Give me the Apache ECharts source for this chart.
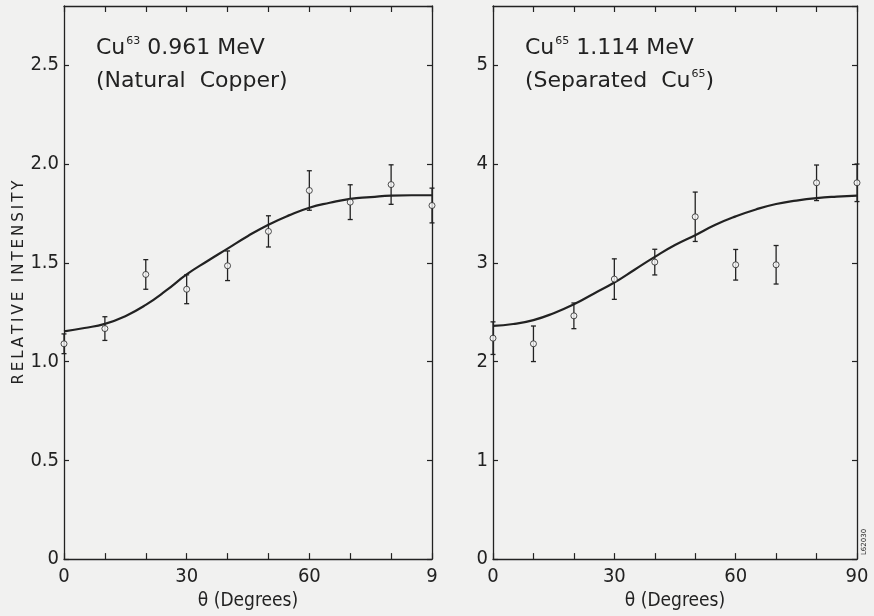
<!DOCTYPE html>
<html>
<head>
<meta charset="utf-8">
<script src="https://cdn.jsdelivr.net/npm/echarts@6/dist/echarts.min.js"></script>
<style>
  html, body { margin: 0; padding: 0; background: #f1f1f0; }
  #main { width: 874px; height: 616px; }
</style>
</head>
<body>
<div id="main"></div>
<script>
// measured angles (degrees)
var angles = [0, 10, 20, 30, 40, 50, 60, 70, 80, 90];

// Cu63 0.961 MeV (natural copper)
var cu63Vals = [1.09, 1.167, 1.441, 1.366, 1.485, 1.659, 1.866, 1.807, 1.896, 1.79];
var cu63Err  = [0.05, 0.06, 0.075, 0.073, 0.075, 0.079, 0.10, 0.088, 0.10, 0.088];

// Cu65 1.114 MeV (separated Cu65)
var cu65Vals = [2.237, 2.18, 2.463, 2.835, 3.007, 3.466, 2.98, 2.98, 3.81, 3.81];
var cu65Err  = [0.165, 0.18, 0.13, 0.205, 0.13, 0.25, 0.155, 0.195, 0.18, 0.19];

// fitted curves, every 5 degrees
var curveAngles = [0, 5, 10, 15, 20, 25, 30, 35, 40, 45, 50, 55, 60, 65, 70, 75, 80, 85, 90];
var cu63Curve = [1.153, 1.17, 1.191, 1.23, 1.287, 1.36, 1.441, 1.508, 1.572, 1.636, 1.693, 1.74, 1.779, 1.804, 1.824, 1.832, 1.84, 1.842, 1.842];
var cu65Curve = [2.362, 2.38, 2.42, 2.49, 2.58, 2.69, 2.80, 2.93, 3.06, 3.18, 3.28, 3.385, 3.47, 3.54, 3.595, 3.63, 3.655, 3.67, 3.68];

var ink = '#222';
var bg = '#f1f1f0';
var numFont = '"DejaVu Sans Condensed", "DejaVu Sans", sans-serif';
var txtFont = '"DejaVu Sans", sans-serif';

var myChart = echarts.init(document.getElementById('main'));

function pairs(xs, ys) {
    return xs.map(function (x, i) { return [x, ys[i]]; });
}
function bars(vals, err) {
    return angles.map(function (a, i) { return [a, vals[i] - err[i], vals[i] + err[i]]; });
}
// spread letters a little, like the lettering on the original
function spaced(s) {
    return s.split(' ').map(function (w) { return w.split('').join('\u2009'); }).join('  ');
}

function errorBar(params, api) {
    var x = api.value(0);
    var lo = api.coord([x, api.value(1)]);
    var hi = api.coord([x, api.value(2)]);
    var w = 2.5;
    var st = { stroke: ink, lineWidth: 1.3 };
    return {
        type: 'group',
        children: [
            { type: 'line', shape: { x1: lo[0], y1: lo[1], x2: hi[0], y2: hi[1] }, style: st },
            { type: 'line', shape: { x1: lo[0] - w, y1: lo[1], x2: lo[0] + w, y2: lo[1] }, style: st },
            { type: 'line', shape: { x1: hi[0] - w, y1: hi[1], x2: hi[0] + w, y2: hi[1] }, style: st }
        ]
    };
}

var axisLineStyle = { show: true, onZero: false, lineStyle: { color: ink, width: 1.3 } };

function xAxes(gridIndex, lastLabel) {
    return [
        {
            type: 'value', gridIndex: gridIndex, min: 0, max: 90, interval: 10,
            name: 'θ (Degrees)', nameLocation: 'middle', nameGap: 29,
            nameTextStyle: { color: ink, fontSize: 19, fontFamily: numFont },
            axisLine: axisLineStyle,
            axisTick: { inside: true, length: 6, lineStyle: { color: ink, width: 1.2 } },
            axisLabel: {
                color: ink, fontSize: 20, fontFamily: numFont, margin: 8,
                formatter: function (v) {
                    if (v % 30 !== 0) return '';
                    return v === 90 ? lastLabel : String(v);
                }
            },
            splitLine: { show: false }
        },
        {
            type: 'value', gridIndex: gridIndex, position: 'top', min: 0, max: 90, interval: 10,
            axisLine: axisLineStyle,
            axisTick: { inside: true, length: 6, lineStyle: { color: ink, width: 1.2 } },
            axisLabel: { show: false },
            splitLine: { show: false }
        }
    ];
}

function yAxes(gridIndex, max, interval, fmt, name) {
    return [
        {
            type: 'value', gridIndex: gridIndex, min: 0, max: max, interval: interval,
            name: name, nameLocation: 'middle', nameGap: 36,
            nameTextStyle: { color: ink, fontSize: 15, fontFamily: txtFont },
            axisLine: axisLineStyle,
            axisTick: { show: true, inside: true, length: 5, lineStyle: { color: ink, width: 1.2 } },
            axisLabel: { color: ink, fontSize: 20, fontFamily: numFont, margin: 5, showMaxLabel: false, formatter: fmt },
            splitLine: { show: false }
        },
        {
            type: 'value', gridIndex: gridIndex, position: 'right', min: 0, max: max, interval: interval,
            axisLine: axisLineStyle,
            axisTick: { show: true, inside: true, length: 5, lineStyle: { color: ink, width: 1.2 } },
            axisLabel: { show: false },
            splitLine: { show: false }
        }
    ];
}

var richStyle = {
    m: { fontSize: 22, fontFamily: txtFont, color: ink, lineHeight: 33 },
    s: { fontSize: 11, fontFamily: txtFont, color: ink, verticalAlign: 'top', lineHeight: 12, padding: [4, 0, 0, 1] }
};

option = {
    backgroundColor: bg,
    animation: false,
    title: [
        {
            left: 96, top: 32, padding: 0,
            text: '{m|Cu}{s|63}{m| 0.961 MeV}\n{m|(Natural  Copper)}',
            textStyle: { rich: richStyle, fontWeight: 'normal' }
        },
        {
            left: 525, top: 32, padding: 0,
            text: '{m|Cu}{s|65}{m| 1.114 MeV}\n{m|(Separated  Cu}{s|65}{m|)}',
            textStyle: { rich: richStyle, fontWeight: 'normal' }
        }
    ],
    graphic: [
        {
            type: 'text', x: 864, y: 542, rotation: Math.PI / 2,
            style: { text: 'L62030', fontSize: 7, fontFamily: txtFont, fill: ink, align: 'center', verticalAlign: 'middle' }
        }
    ],
    grid: [
        { left: 64, top: 6, width: 368, height: 556 },
        { left: 493, top: 6, width: 364, height: 556 }
    ],
    xAxis: xAxes(0, '9').concat(xAxes(1, '90')),
    yAxis: yAxes(0, 2.8, 0.5, function (v) { return v === 0 ? '0' : v.toFixed(1); }, spaced('RELATIVE INTENSITY'))
        .concat(yAxes(1, 5.6, 1, function (v) { return String(v); }, '')),
    series: [
        {
            type: 'line', xAxisIndex: 0, yAxisIndex: 0, data: pairs(curveAngles, cu63Curve),
            smooth: true, symbol: 'none', lineStyle: { color: ink, width: 2.2 }, z: 2
        },
        {
            type: 'custom', xAxisIndex: 0, yAxisIndex: 0, data: bars(cu63Vals, cu63Err),
            renderItem: errorBar, encode: { x: 0, y: [1, 2] }, z: 3
        },
        {
            type: 'scatter', xAxisIndex: 0, yAxisIndex: 0, data: pairs(angles, cu63Vals),
            symbol: 'circle', symbolSize: 6, clip: false,
            itemStyle: { color: '#fafafa', borderColor: ink, borderWidth: 1 }, z: 4
        },
        {
            type: 'line', xAxisIndex: 2, yAxisIndex: 2, data: pairs(curveAngles, cu65Curve),
            smooth: true, symbol: 'none', lineStyle: { color: ink, width: 2.2 }, z: 2
        },
        {
            type: 'custom', xAxisIndex: 2, yAxisIndex: 2, data: bars(cu65Vals, cu65Err),
            renderItem: errorBar, encode: { x: 0, y: [1, 2] }, z: 3
        },
        {
            type: 'scatter', xAxisIndex: 2, yAxisIndex: 2, data: pairs(angles, cu65Vals),
            symbol: 'circle', symbolSize: 6, clip: false,
            itemStyle: { color: '#fafafa', borderColor: ink, borderWidth: 1 }, z: 4
        }
    ]
};
myChart.setOption(option, true);
</script>
</body>
</html>
